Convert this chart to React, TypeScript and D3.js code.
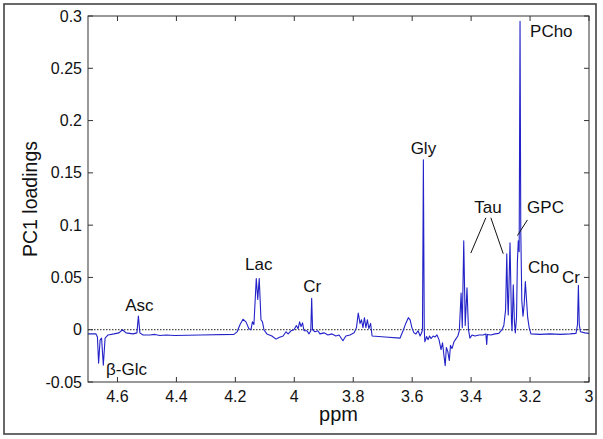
import React from "react";
import * as d3 from "d3";

// Spectrum (ppm, PC1 loading)
const ppmValues: number[] = [
  4.700, 4.673, 4.668, 4.664, 4.659, 4.654, 4.648, 4.642, 4.632, 4.612,
  4.595, 4.583, 4.571, 4.547, 4.534, 4.529, 4.524, 4.513, 4.490, 4.473,
  4.456, 4.435, 4.405, 4.320, 4.205, 4.194, 4.184, 4.174, 4.164, 4.154,
  4.147, 4.142, 4.137, 4.129, 4.124, 4.119, 4.113, 4.108, 4.103, 4.093,
  4.076, 4.062, 4.052, 4.038, 4.028, 4.021, 4.011, 4.001, 3.993, 3.987,
  3.982, 3.977, 3.972, 3.967, 3.957, 3.950, 3.944, 3.941, 3.938, 3.930,
  3.920, 3.913, 3.899, 3.886, 3.872, 3.859, 3.848, 3.835, 3.825, 3.811,
  3.797, 3.789, 3.783, 3.777, 3.772, 3.767, 3.762, 3.757, 3.752, 3.747,
  3.741, 3.736, 3.692, 3.641, 3.631, 3.621, 3.613, 3.607, 3.601, 3.594,
  3.587, 3.580, 3.573, 3.568, 3.565, 3.562, 3.559, 3.557, 3.551, 3.546,
  3.541, 3.536, 3.529, 3.523, 3.516, 3.509, 3.502, 3.497, 3.492, 3.488,
  3.484, 3.479, 3.474, 3.470, 3.465, 3.458, 3.451, 3.445, 3.440, 3.434,
  3.430, 3.425, 3.420, 3.414, 3.409, 3.404, 3.397, 3.387, 3.373, 3.360,
  3.350, 3.347, 3.345, 3.333, 3.319, 3.306, 3.295, 3.289, 3.283, 3.279,
  3.276, 3.274, 3.268, 3.263, 3.261, 3.257, 3.253, 3.250, 3.246, 3.243,
  3.240, 3.237, 3.234, 3.2315, 3.228, 3.224, 3.220, 3.216, 3.212, 3.208,
  3.203, 3.197, 3.166, 3.132, 3.098, 3.064, 3.044, 3.039, 3.036, 3.033,
  3.029, 3.014, 3.000,
];
const loadings: number[] = [
  -0.004, -0.004, -0.007, -0.032, -0.010, -0.008, -0.034, -0.008, -0.005, -0.004,
  -0.003, 0.000, -0.003, -0.004, -0.003, 0.013, -0.003, -0.005, -0.005, -0.0045,
  -0.0055, -0.005, -0.0055, -0.005, -0.0045, -0.002, 0.005, 0.010, 0.0075, 0.001,
  0.000, 0.0075, 0.005, 0.049, 0.029, 0.049, 0.0095, 0.0075, 0.000, -0.004,
  -0.006, -0.009, -0.0075, -0.006, -0.002, -0.004, -0.001, 0.000, 0.004, 0.001,
  0.0075, 0.003, 0.0065, -0.001, -0.001, -0.004, -0.001, 0.030, 0.000, -0.002,
  -0.001, -0.004, -0.003, -0.005, -0.004, -0.006, -0.005, -0.0105, -0.006, -0.005,
  -0.003, 0.002, 0.016, 0.006, 0.0095, 0.002, 0.0115, 0.002, 0.0095, 0.001,
  0.006, -0.006, -0.007, -0.008, -0.001, 0.0065, 0.0115, 0.0095, 0.002, -0.003,
  -0.004, -0.001, -0.006, -0.003, 0.000, 0.1625, 0.000, -0.0115, -0.0065, -0.0095,
  -0.006, -0.0085, -0.006, -0.007, -0.005, -0.0095, -0.019, -0.0125, -0.025, -0.0345,
  -0.017, -0.021, -0.0295, -0.015, -0.018, -0.0115, -0.0085, -0.006, -0.001, 0.035,
  0.002, 0.085, 0.004, 0.040, 0.000, -0.008, -0.005, -0.006, -0.005, -0.005,
  -0.004, -0.014, -0.0045, -0.005, -0.004, -0.0035, 0.000, 0.004, 0.019, 0.0725,
  0.0285, 0.014, 0.083, 0.0075, -0.001, 0.043, 0.0075, -0.003, 0.0115, 0.065,
  0.085, 0.0745, 0.295, 0.095, 0.028, 0.013, 0.024, 0.046, 0.0285, 0.0115,
  0.002, -0.004, -0.0045, -0.004, -0.0045, -0.004, -0.0035, 0.005, 0.0425, 0.005,
  -0.002, -0.003, -0.0035,
];

const xTicks: number[] = [4.6, 4.4, 4.2, 4, 3.8, 3.6, 3.4, 3.2, 3];
const xTickLabels: string[] = ["4.6", "4.4", "4.2", "4", "3.8", "3.6", "3.4", "3.2", "3"];
const yTicks: number[] = [-0.05, 0, 0.05, 0.1, 0.15, 0.2, 0.25, 0.3];
const yTickLabels: string[] = ["-0.05", "0", "0.05", "0.1", "0.15", "0.2", "0.25", "0.3"];

// Peak labels: text, ppm, loading (anchor position in data coords), anchor
const labelTexts: string[] = ["PCho", "Gly", "Tau", "GPC", "Cho", "Cr", "Cr", "Lac", "Asc", "β-Glc"];
const labelPpm: number[] = [3.200, 3.562, 3.343, 3.210, 3.207, 3.092, 3.970, 4.167, 4.574, 4.639];
const labelLoad: number[] = [0.280, 0.168, 0.112, 0.112, 0.0545, 0.045, 0.0363, 0.0574, 0.018, -0.043];
const labelAnchor: string[] = ["start", "middle", "middle", "start", "start", "start", "start", "start", "start", "start"];

// Leader lines [ppm1, load1, ppm2, load2]
const leaders: number[][] = [
  [3.350, 0.107, 3.401, 0.0733],
  [3.333, 0.107, 3.291, 0.0727],
  [3.209, 0.105, 3.243, 0.090],
];

const W = 603;
const H = 439;
const M = { left: 88, top: 16, right: 589, bottom: 382 };
const FONT = "'Liberation Sans', Arial, sans-serif";

export default function App() {
  const x = d3.scaleLinear().domain([4.7, 3.0]).range([M.left, M.right]);
  const y = d3.scaleLinear().domain([-0.05, 0.3]).range([M.bottom, M.top]);
  const pts: [number, number][] = ppmValues.map((p, i) => [p, loadings[i]]);
  const line = d3
    .line<[number, number]>()
    .x((d) => x(d[0]))
    .y((d) => y(d[1]));
  const axisColor = "#333";
  const tl = 5;

  return (
    <div style={{ position: "absolute", left: 0, top: 0 }}>
      <svg width={W} height={H} style={{ display: "block", background: "#fff" }}>
        <rect x={4} y={4} width={592} height={430} fill="#fff" stroke="#444" strokeWidth={1.6} />
        {/* zero dotted line */}
        <line
          x1={M.left}
          x2={M.right}
          y1={y(0)}
          y2={y(0)}
          stroke="#222"
          strokeWidth={1}
          strokeDasharray="1.5,1.5"
        />
        {/* spectrum */}
        <path d={line(pts) || ""} fill="none" stroke="#2222c8" strokeWidth={1.1} strokeLinejoin="round" />
        {/* axes box */}
        <rect
          x={M.left}
          y={M.top}
          width={M.right - M.left}
          height={M.bottom - M.top}
          fill="none"
          stroke={axisColor}
          strokeWidth={1}
        />
        {xTicks.map((t, i) => (
          <g key={"xt" + i}>
            <line x1={x(t)} x2={x(t)} y1={M.bottom} y2={M.bottom - tl} stroke={axisColor} />
            <line x1={x(t)} x2={x(t)} y1={M.top} y2={M.top + tl} stroke={axisColor} />
            <text
              x={x(t)}
              y={401.5}
              textAnchor="middle"
              fontFamily={FONT}
              fontSize={16}
              fill="#111"
            >
              {xTickLabels[i]}
            </text>
          </g>
        ))}
        {yTicks.map((t, i) => (
          <g key={"yt" + i}>
            <line x1={M.left} x2={M.left + tl} y1={y(t)} y2={y(t)} stroke={axisColor} />
            <line x1={M.right} x2={M.right - tl} y1={y(t)} y2={y(t)} stroke={axisColor} />
            <text
              x={82}
              y={y(t)}
              dy="0.35em"
              textAnchor="end"
              fontFamily={FONT}
              fontSize={16}
              fill="#111"
            >
              {yTickLabels[i]}
            </text>
          </g>
        ))}
        <text x={(M.left + M.right) / 2} y={421} textAnchor="middle" fontFamily={FONT} fontSize={20} fill="#111">
          ppm
        </text>
        <text
          transform={`translate(37,${(M.top + M.bottom) / 2}) rotate(-90)`}
          textAnchor="middle"
          fontFamily={FONT}
          fontSize={19.5}
          fill="#111"
        >
          PC1 loadings
        </text>
        {labelTexts.map((t, i) => (
          <text
            key={"lb" + i}
            x={x(labelPpm[i])}
            y={y(labelLoad[i])}
            textAnchor={labelAnchor[i]}
            fontFamily={FONT}
            fontSize={17}
            fill="#111"
          >
            {t}
          </text>
        ))}
        {leaders.map((l, i) => (
          <line key={"ld" + i} x1={x(l[0])} y1={y(l[1])} x2={x(l[2])} y2={y(l[3])} stroke="#111" strokeWidth={1} />
        ))}
      </svg>
    </div>
  );
}
